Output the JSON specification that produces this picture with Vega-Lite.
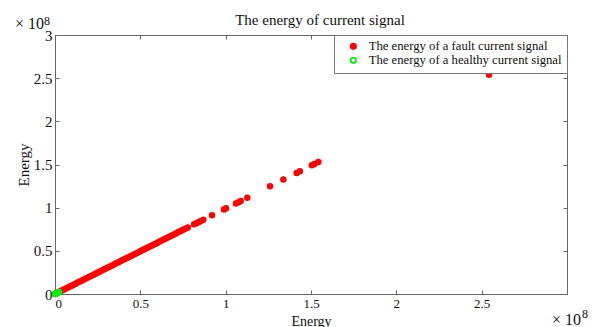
{
  "$schema": "https://vega.github.io/schema/vega-lite/v6.json",
  "width": 512,
  "height": 259,
  "autosize": {"type": "none"},
  "padding": {"left": 55, "top": 35, "right": 29, "bottom": 33},
  "background": "white",
  "config": {
    "font": "Liberation Serif",
    "view": {"stroke": "#666", "strokeWidth": 1},
    "axis": {
      "domainColor": "#666",
      "tickColor": "#666",
      "grid": false,
      "labelFont": "Liberation Serif",
      "labelFontSize": 13,
      "labelColor": "#111",
      "titleFont": "Liberation Serif",
      "titleFontSize": 14,
      "titleFontWeight": "normal",
      "titleColor": "#111",
      "tickSize": -4,
      "labelPadding": 7
    }
  },
  "title": {
    "text": "The energy of current signal",
    "font": "Liberation Serif",
    "fontSize": 15,
    "fontWeight": "normal",
    "color": "#111",
    "offset": -13,
    "dx": 9
  },
  "datasets": {
    "pts": [
      {"energy_x": 0.0, "energy_y": 0.0, "signal": "The energy of a fault current signal"},
      {"energy_x": 0.01e8, "energy_y": 0.01e8, "signal": "The energy of a fault current signal"},
      {"energy_x": 0.022e8, "energy_y": 0.022e8, "signal": "The energy of a fault current signal"},
      {"energy_x": 0.034e8, "energy_y": 0.034e8, "signal": "The energy of a fault current signal"},
      {"energy_x": 0.046e8, "energy_y": 0.045e8, "signal": "The energy of a fault current signal"},
      {"energy_x": 0.058e8, "energy_y": 0.057e8, "signal": "The energy of a fault current signal"},
      {"energy_x": 0.07e8, "energy_y": 0.069e8, "signal": "The energy of a fault current signal"},
      {"energy_x": 0.082e8, "energy_y": 0.081e8, "signal": "The energy of a fault current signal"},
      {"energy_x": 0.094e8, "energy_y": 0.093e8, "signal": "The energy of a fault current signal"},
      {"energy_x": 0.106e8, "energy_y": 0.105e8, "signal": "The energy of a fault current signal"},
      {"energy_x": 0.118e8, "energy_y": 0.117e8, "signal": "The energy of a fault current signal"},
      {"energy_x": 0.13e8, "energy_y": 0.129e8, "signal": "The energy of a fault current signal"},
      {"energy_x": 0.142e8, "energy_y": 0.141e8, "signal": "The energy of a fault current signal"},
      {"energy_x": 0.154e8, "energy_y": 0.152e8, "signal": "The energy of a fault current signal"},
      {"energy_x": 0.166e8, "energy_y": 0.164e8, "signal": "The energy of a fault current signal"},
      {"energy_x": 0.178e8, "energy_y": 0.176e8, "signal": "The energy of a fault current signal"},
      {"energy_x": 0.19e8, "energy_y": 0.188e8, "signal": "The energy of a fault current signal"},
      {"energy_x": 0.202e8, "energy_y": 0.2e8, "signal": "The energy of a fault current signal"},
      {"energy_x": 0.214e8, "energy_y": 0.212e8, "signal": "The energy of a fault current signal"},
      {"energy_x": 0.226e8, "energy_y": 0.224e8, "signal": "The energy of a fault current signal"},
      {"energy_x": 0.238e8, "energy_y": 0.236e8, "signal": "The energy of a fault current signal"},
      {"energy_x": 0.25e8, "energy_y": 0.248e8, "signal": "The energy of a fault current signal"},
      {"energy_x": 0.262e8, "energy_y": 0.259e8, "signal": "The energy of a fault current signal"},
      {"energy_x": 0.274e8, "energy_y": 0.271e8, "signal": "The energy of a fault current signal"},
      {"energy_x": 0.286e8, "energy_y": 0.283e8, "signal": "The energy of a fault current signal"},
      {"energy_x": 0.298e8, "energy_y": 0.295e8, "signal": "The energy of a fault current signal"},
      {"energy_x": 0.31e8, "energy_y": 0.307e8, "signal": "The energy of a fault current signal"},
      {"energy_x": 0.322e8, "energy_y": 0.319e8, "signal": "The energy of a fault current signal"},
      {"energy_x": 0.334e8, "energy_y": 0.331e8, "signal": "The energy of a fault current signal"},
      {"energy_x": 0.346e8, "energy_y": 0.343e8, "signal": "The energy of a fault current signal"},
      {"energy_x": 0.358e8, "energy_y": 0.355e8, "signal": "The energy of a fault current signal"},
      {"energy_x": 0.37e8, "energy_y": 0.366e8, "signal": "The energy of a fault current signal"},
      {"energy_x": 0.382e8, "energy_y": 0.378e8, "signal": "The energy of a fault current signal"},
      {"energy_x": 0.394e8, "energy_y": 0.39e8, "signal": "The energy of a fault current signal"},
      {"energy_x": 0.406e8, "energy_y": 0.402e8, "signal": "The energy of a fault current signal"},
      {"energy_x": 0.418e8, "energy_y": 0.414e8, "signal": "The energy of a fault current signal"},
      {"energy_x": 0.43e8, "energy_y": 0.426e8, "signal": "The energy of a fault current signal"},
      {"energy_x": 0.442e8, "energy_y": 0.438e8, "signal": "The energy of a fault current signal"},
      {"energy_x": 0.454e8, "energy_y": 0.449e8, "signal": "The energy of a fault current signal"},
      {"energy_x": 0.466e8, "energy_y": 0.461e8, "signal": "The energy of a fault current signal"},
      {"energy_x": 0.478e8, "energy_y": 0.473e8, "signal": "The energy of a fault current signal"},
      {"energy_x": 0.49e8, "energy_y": 0.485e8, "signal": "The energy of a fault current signal"},
      {"energy_x": 0.502e8, "energy_y": 0.497e8, "signal": "The energy of a fault current signal"},
      {"energy_x": 0.514e8, "energy_y": 0.509e8, "signal": "The energy of a fault current signal"},
      {"energy_x": 0.526e8, "energy_y": 0.521e8, "signal": "The energy of a fault current signal"},
      {"energy_x": 0.538e8, "energy_y": 0.533e8, "signal": "The energy of a fault current signal"},
      {"energy_x": 0.55e8, "energy_y": 0.545e8, "signal": "The energy of a fault current signal"},
      {"energy_x": 0.562e8, "energy_y": 0.556e8, "signal": "The energy of a fault current signal"},
      {"energy_x": 0.574e8, "energy_y": 0.568e8, "signal": "The energy of a fault current signal"},
      {"energy_x": 0.586e8, "energy_y": 0.58e8, "signal": "The energy of a fault current signal"},
      {"energy_x": 0.598e8, "energy_y": 0.592e8, "signal": "The energy of a fault current signal"},
      {"energy_x": 0.61e8, "energy_y": 0.604e8, "signal": "The energy of a fault current signal"},
      {"energy_x": 0.622e8, "energy_y": 0.616e8, "signal": "The energy of a fault current signal"},
      {"energy_x": 0.634e8, "energy_y": 0.628e8, "signal": "The energy of a fault current signal"},
      {"energy_x": 0.646e8, "energy_y": 0.64e8, "signal": "The energy of a fault current signal"},
      {"energy_x": 0.658e8, "energy_y": 0.651e8, "signal": "The energy of a fault current signal"},
      {"energy_x": 0.67e8, "energy_y": 0.663e8, "signal": "The energy of a fault current signal"},
      {"energy_x": 0.682e8, "energy_y": 0.675e8, "signal": "The energy of a fault current signal"},
      {"energy_x": 0.694e8, "energy_y": 0.687e8, "signal": "The energy of a fault current signal"},
      {"energy_x": 0.706e8, "energy_y": 0.699e8, "signal": "The energy of a fault current signal"},
      {"energy_x": 0.718e8, "energy_y": 0.711e8, "signal": "The energy of a fault current signal"},
      {"energy_x": 0.73e8, "energy_y": 0.723e8, "signal": "The energy of a fault current signal"},
      {"energy_x": 0.742e8, "energy_y": 0.735e8, "signal": "The energy of a fault current signal"},
      {"energy_x": 0.754e8, "energy_y": 0.746e8, "signal": "The energy of a fault current signal"},
      {"energy_x": 0.766e8, "energy_y": 0.758e8, "signal": "The energy of a fault current signal"},
      {"energy_x": 0.778e8, "energy_y": 0.77e8, "signal": "The energy of a fault current signal"},
      {"energy_x": 0.815e8, "energy_y": 0.807e8, "signal": "The energy of a fault current signal"},
      {"energy_x": 0.828e8, "energy_y": 0.82e8, "signal": "The energy of a fault current signal"},
      {"energy_x": 0.84e8, "energy_y": 0.832e8, "signal": "The energy of a fault current signal"},
      {"energy_x": 0.852e8, "energy_y": 0.844e8, "signal": "The energy of a fault current signal"},
      {"energy_x": 0.869e8, "energy_y": 0.86e8, "signal": "The energy of a fault current signal"},
      {"energy_x": 0.92e8, "energy_y": 0.911e8, "signal": "The energy of a fault current signal"},
      {"energy_x": 0.99e8, "energy_y": 0.98e8, "signal": "The energy of a fault current signal"},
      {"energy_x": 1.002e8, "energy_y": 0.992e8, "signal": "The energy of a fault current signal"},
      {"energy_x": 1.06e8, "energy_y": 1.049e8, "signal": "The energy of a fault current signal"},
      {"energy_x": 1.075e8, "energy_y": 1.064e8, "signal": "The energy of a fault current signal"},
      {"energy_x": 1.088e8, "energy_y": 1.077e8, "signal": "The energy of a fault current signal"},
      {"energy_x": 1.127e8, "energy_y": 1.116e8, "signal": "The energy of a fault current signal"},
      {"energy_x": 1.26e8, "energy_y": 1.247e8, "signal": "The energy of a fault current signal"},
      {"energy_x": 1.338e8, "energy_y": 1.325e8, "signal": "The energy of a fault current signal"},
      {"energy_x": 1.416e8, "energy_y": 1.402e8, "signal": "The energy of a fault current signal"},
      {"energy_x": 1.435e8, "energy_y": 1.421e8, "signal": "The energy of a fault current signal"},
      {"energy_x": 1.505e8, "energy_y": 1.49e8, "signal": "The energy of a fault current signal"},
      {"energy_x": 1.52e8, "energy_y": 1.505e8, "signal": "The energy of a fault current signal"},
      {"energy_x": 1.543e8, "energy_y": 1.528e8, "signal": "The energy of a fault current signal"},
      {"energy_x": 2.543e8, "energy_y": 2.54e8, "signal": "The energy of a fault current signal"},
      {"energy_x": 0.0, "energy_y": 0.0, "signal": "The energy of a healthy current signal"},
      {"energy_x": 0.006e8, "energy_y": 0.005e8, "signal": "The energy of a healthy current signal"},
      {"energy_x": 0.012e8, "energy_y": 0.011e8, "signal": "The energy of a healthy current signal"},
      {"energy_x": 0.018e8, "energy_y": 0.016e8, "signal": "The energy of a healthy current signal"},
      {"energy_x": 0.024e8, "energy_y": 0.022e8, "signal": "The energy of a healthy current signal"}
    ]
  },
  "layer": [
    {
      "data": {"name": "pts"},
      "mark": {"type": "point", "shape": "circle", "size": 24, "strokeWidth": 1.6, "opacity": 1, "fillOpacity": 1},
      "encoding": {
        "x": {
          "field": "energy_x", "type": "quantitative",
          "scale": {"domain": [0, 300000000], "nice": false, "zero": true},
          "axis": {"orient": "bottom", "title": "Energy", "values": [0, 50000000, 100000000, 150000000, 200000000, 250000000, 300000000],
                   "labelExpr": "datum.value >= 300000000 ? '' : format(datum.value / 100000000, '')", "titlePadding": 4}
        },
        "y": {
          "field": "energy_y", "type": "quantitative",
          "scale": {"domain": [0, 300000000], "nice": false, "zero": true},
          "axis": {"orient": "left", "title": "Energy", "values": [0, 50000000, 100000000, 150000000, 200000000, 250000000, 300000000],
                   "labelExpr": "format(datum.value / 100000000, '')", "titlePadding": 2, "labelFontSize": 15, "titleFontSize": 15}
        },
        "fill": {
          "field": "signal", "type": "nominal",
          "scale": {"domain": ["The energy of a fault current signal", "The energy of a healthy current signal"], "range": ["#ff0000", "transparent"]},
          "legend": {"title": null, "orient": "top-right", "offset": 0, "strokeColor": "#777", "fillColor": "white", "padding": 5,
                     "labelFont": "Liberation Serif", "labelFontSize": 12.7, "labelColor": "#111", "symbolSize": 28, "symbolStrokeWidth": 1.8,
                     "rowPadding": 0, "symbolOffset": 8, "labelOffset": 9, "labelLimit": 400}
        },
        "stroke": {
          "field": "signal", "type": "nominal",
          "scale": {"domain": ["The energy of a fault current signal", "The energy of a healthy current signal"], "range": ["#ff0000", "#00ee00"]},
          "legend": {"title": null, "orient": "top-right", "offset": 0, "strokeColor": "#777", "fillColor": "white", "padding": 5,
                     "labelFont": "Liberation Serif", "labelFontSize": 12.7, "labelColor": "#111", "symbolSize": 28, "symbolStrokeWidth": 1.8,
                     "rowPadding": 0, "symbolOffset": 8, "labelOffset": 9, "labelLimit": 400}
        }
      }
    },
    {
      "data": {"name": "pts"},
      "mark": {"type": "point", "opacity": 0},
      "encoding": {
        "x": {"field": "energy_x", "type": "quantitative",
              "axis": {"orient": "top", "title": null, "labels": false, "values": [0, 50000000, 100000000, 150000000, 200000000, 250000000, 300000000]}},
        "y": {"field": "energy_y", "type": "quantitative",
              "axis": {"orient": "right", "title": null, "labels": false, "values": [0, 50000000, 100000000, 150000000, 200000000, 250000000, 300000000]}}
      }
    },
    {
      "data": {"values": [{"label": "× 10"}]},
      "mark": {"type": "text", "align": "right", "baseline": "alphabetic", "dx": -11, "dy": -6, "fontSize": 16, "font": "Liberation Serif", "color": "#111"},
      "encoding": {"x": {"datum": 0, "type": "quantitative", "axis": null}, "y": {"datum": 300000000, "type": "quantitative", "axis": null}, "text": {"field": "label"}}
    },
    {
      "data": {"values": [{"label": "8"}]},
      "mark": {"type": "text", "align": "left", "baseline": "alphabetic", "dx": -11, "dy": -10, "fontSize": 12, "font": "Liberation Serif", "color": "#111"},
      "encoding": {"x": {"datum": 0, "type": "quantitative", "axis": null}, "y": {"datum": 300000000, "type": "quantitative", "axis": null}, "text": {"field": "label"}}
    },
    {
      "data": {"values": [{"label": "× 10"}]},
      "mark": {"type": "text", "align": "left", "baseline": "alphabetic", "dx": -15, "dy": 31, "fontSize": 16, "font": "Liberation Serif", "color": "#111"},
      "encoding": {"x": {"datum": 300000000, "type": "quantitative", "axis": null}, "y": {"datum": 0, "type": "quantitative", "axis": null}, "text": {"field": "label"}}
    },
    {
      "data": {"values": [{"label": "8"}]},
      "mark": {"type": "text", "align": "left", "baseline": "alphabetic", "dx": 15, "dy": 24, "fontSize": 12, "font": "Liberation Serif", "color": "#111"},
      "encoding": {"x": {"datum": 300000000, "type": "quantitative", "axis": null}, "y": {"datum": 0, "type": "quantitative", "axis": null}, "text": {"field": "label"}}
    }
  ],
  "resolve": {"axis": {"x": "independent", "y": "independent"}}
}
